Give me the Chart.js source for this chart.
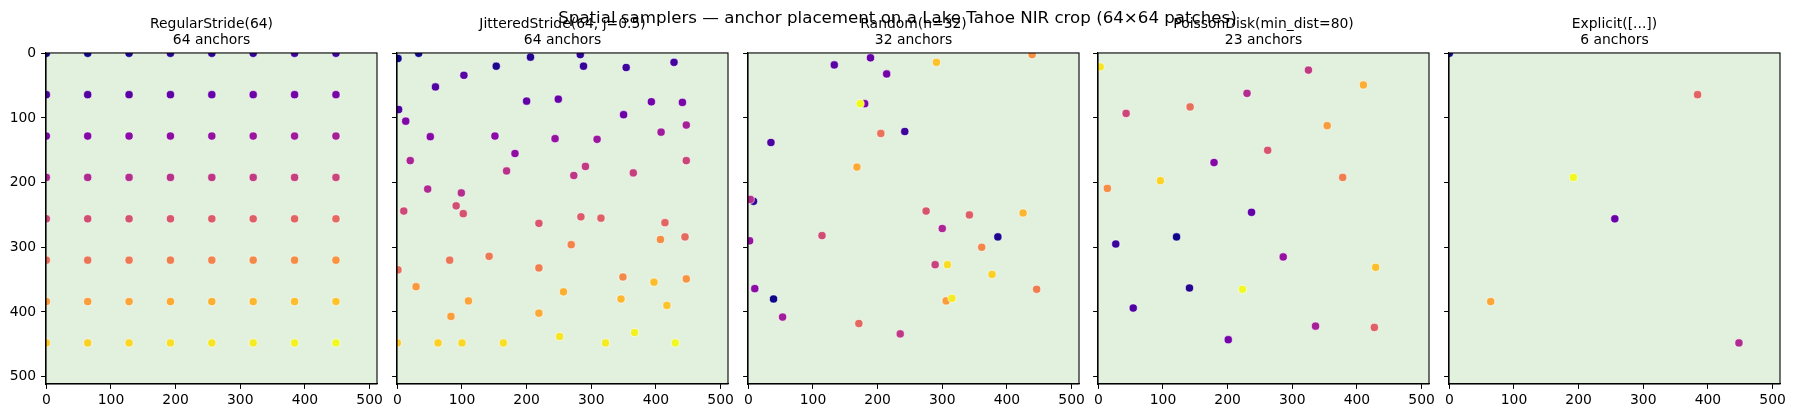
<!DOCTYPE html>
<html>
<head>
<meta charset="utf-8">
<script src="https://cdn.jsdelivr.net/npm/chart.js@4.4.1/dist/chart.umd.min.js"></script>
<style>
  html, body { margin: 0; padding: 0; background: #ffffff; }
  #wrap { position: relative; width: 1795px; height: 418px; overflow: hidden; }
  canvas { position: absolute; top: 0; }
  #sup { position: absolute; left: 0; top: 8px; width: 1795px; text-align: center;
         font-family: "DejaVu Sans", sans-serif; font-size: 16.67px; line-height: 20px;
         color: #000; z-index: 10; pointer-events: none; }
</style>
</head>
<body>
<div id="wrap">
  <div id="sup">Spatial samplers — anchor placement on a Lake Tahoe NIR crop (64×64 patches)</div>
</div>
<script>
// ---------- data ----------
const SUPTITLE = "Spatial samplers — anchor placement on a Lake Tahoe NIR crop (64×64 patches)";
const TITLES = [
  ["RegularStride(64)", "64 anchors"],
  ["JitteredStride(64, j=0.5)", "64 anchors"],
  ["Random(n=32)", "32 anchors"],
  ["PoissonDisk(min_dist=80)", "23 anchors"],
  ["Explicit([...])", "6 anchors"]
];
const X_TICKS = [0, 100, 200, 300, 400, 500];
const Y_TICKS = [0, 100, 200, 300, 400, 500];
const AXIS_MIN = -0.5, AXIS_MAX = 511.5;

const REGULAR = [
  [0,0],[64,0],[128,0],[192,0],[256,0],[320,0],[384,0],[448,0],
  [0,64],[64,64],[128,64],[192,64],[256,64],[320,64],[384,64],[448,64],
  [0,128],[64,128],[128,128],[192,128],[256,128],[320,128],[384,128],[448,128],
  [0,192],[64,192],[128,192],[192,192],[256,192],[320,192],[384,192],[448,192],
  [0,256],[64,256],[128,256],[192,256],[256,256],[320,256],[384,256],[448,256],
  [0,320],[64,320],[128,320],[192,320],[256,320],[320,320],[384,320],[448,320],
  [0,384],[64,384],[128,384],[192,384],[256,384],[320,384],[384,384],[448,384],
  [0,448],[64,448],[128,448],[192,448],[256,448],[320,448],[384,448],[448,448]
];
const JITTERED = [
  [1,8],[33,0],[153,20],[206,6],[283,2],[288,20],[354,22],[428,14],
  [2,87],[59,52],[103,34],[200,74],[249,71],[350,95],[393,75],[441,76],
  [13,105],[51,129],[151,128],[182,155],[244,132],[309,133],[408,122],[447,111],
  [20,166],[47,210],[99,216],[169,182],[273,189],[291,175],[365,185],[447,166],
  [10,244],[91,236],[102,248],[219,263],[284,253],[315,255],[414,262],[445,284],
  [1,335],[81,320],[142,314],[219,332],[269,296],[349,346],[407,288],[447,349],
  [29,361],[83,407],[110,383],[219,402],[257,369],[346,380],[397,354],[417,390],
  [0,448],[63,448],[100,448],[164,448],[251,438],[322,448],[367,432],[430,448]
];
const RANDOM = [
  [39,380],[386,284],[8,229],[242,121],[35,138],[133,18],[189,7],[214,32],
  [180,78],[10,364],[2,290],[53,408],[300,271],[3,226],[235,434],[289,327],
  [114,282],[275,244],[342,250],[171,418],[205,124],[446,365],[361,300],[439,2],
  [306,383],[168,176],[425,247],[291,14],[377,342],[308,327],[315,379],[173,78]
];
const POISSON = [
  [121,284],[141,363],[27,295],[54,394],[237,246],[201,443],[179,169],[286,315],
  [336,422],[230,62],[325,26],[43,93],[262,150],[427,424],[142,83],[378,192],
  [14,209],[354,112],[410,49],[429,331],[96,197],[3,21],[223,365]
];
const EXPLICIT = [[0,0],[256,256],[448,448],[384,64],[64,384],[192,192]];
const SAMPLERS = [REGULAR, JITTERED, RANDOM, POISSON, EXPLICIT];

// ---------- style ----------
const PLASMA = ['#0d0887','#41049d','#6a00a8','#8f0da4','#b12a90','#cc4778','#e16462','#f2844b','#fca636','#fcce25','#f0f921'];
function hex2rgb(h){ return [parseInt(h.substr(1,2),16), parseInt(h.substr(3,2),16), parseInt(h.substr(5,2),16)]; }
function plasma(t){
  t = Math.max(0, Math.min(1, t));
  const p = t * (PLASMA.length - 1), i = Math.min(Math.floor(p), PLASMA.length - 2), f = p - i;
  const a = hex2rgb(PLASMA[i]), b = hex2rgb(PLASMA[i+1]);
  return 'rgb(' + a.map((v,k)=>Math.round(v + (b[k]-v)*f)).join(',') + ')';
}
const FONT = '"DejaVu Sans", sans-serif';
const BG = '#e1f1de';
const PANEL_LEFT = [46, 397, 748, 1098, 1449];
const PLOT_W = 331, AXIS_W = 46, RIGHT_PAD = 12, X_AXIS_H = 34;

const framePlugin = {
  id: 'frame',
  beforeDraw(chart){
    const a = chart.chartArea, c = chart.ctx;
    c.save(); c.fillStyle = BG; c.fillRect(a.left, a.top, a.right - a.left, a.bottom - a.top); c.restore();
  },
  afterDraw(chart){
    const a = chart.chartArea, c = chart.ctx;
    c.save(); c.strokeStyle = '#000'; c.lineWidth = 1.1;
    c.strokeRect(a.left, a.top, a.right - a.left, a.bottom - a.top); c.restore();
  }
};

const wrap = document.getElementById('wrap');
SAMPLERS.forEach((pts, idx) => {
  const cv = document.createElement('canvas');
  const w = AXIS_W + PLOT_W + RIGHT_PAD;
  cv.width = w; cv.height = 418;
  cv.style.left = (PANEL_LEFT[idx] - AXIS_W) + 'px';
  cv.style.width = w + 'px'; cv.style.height = '418px';
  wrap.appendChild(cv);
  const n = pts.length;
  const colors = pts.map((p, i) => plasma(n > 1 ? i / (n - 1) : 0));
  new Chart(cv, {
    type: 'scatter',
    data: { datasets: [{
      data: pts.map(p => ({x: p[0], y: p[1]})),
      pointBackgroundColor: colors,
      pointBorderColor: '#ffffff',
      pointBorderWidth: 0.6,
      pointRadius: 4.1,
      pointHoverRadius: 4.1
    }]},
    options: {
      responsive: false, animation: false, events: [],
      layout: { padding: { left: 0, right: RIGHT_PAD, top: 0, bottom: 0 } },
      plugins: {
        legend: { display: false }, tooltip: { enabled: false },
        title: { display: true, text: TITLES[idx], fullSize: false, color: '#000',
                 font: { family: FONT, size: 13.9, weight: 'normal', lineHeight: 1.2 },
                 padding: { top: 15.7, bottom: 3.9 } }
      },
      scales: {
        x: {
          type: 'linear', min: AXIS_MIN, max: AXIS_MAX,
          afterBuildTicks: s => { s.ticks = X_TICKS.map(v => ({value: v})); },
          afterFit: s => { s.height = X_AXIS_H; },
          ticks: { color: '#000', font: { family: FONT, size: 13.9 }, padding: 3, maxRotation: 0, autoSkip: false },
          grid: { drawOnChartArea: false, drawTicks: true, tickLength: 4.9, tickColor: '#000', tickWidth: 1 },
          border: { display: true, color: '#000', width: 1.1 }
        },
        y: {
          type: 'linear', min: AXIS_MIN, max: AXIS_MAX, reverse: true,
          afterBuildTicks: s => { s.ticks = Y_TICKS.map(v => ({value: v})); },
          afterFit: s => { s.width = AXIS_W; },
          ticks: { display: idx === 0, color: '#000', font: { family: FONT, size: 13.9 }, padding: 4.9, autoSkip: false },
          grid: { drawOnChartArea: false, drawTicks: true, tickLength: 4.9, tickColor: '#000', tickWidth: 1 },
          border: { display: true, color: '#000', width: 1.1 }
        }
      }
    },
    plugins: [framePlugin]
  });
});
</script>
</body>
</html>
